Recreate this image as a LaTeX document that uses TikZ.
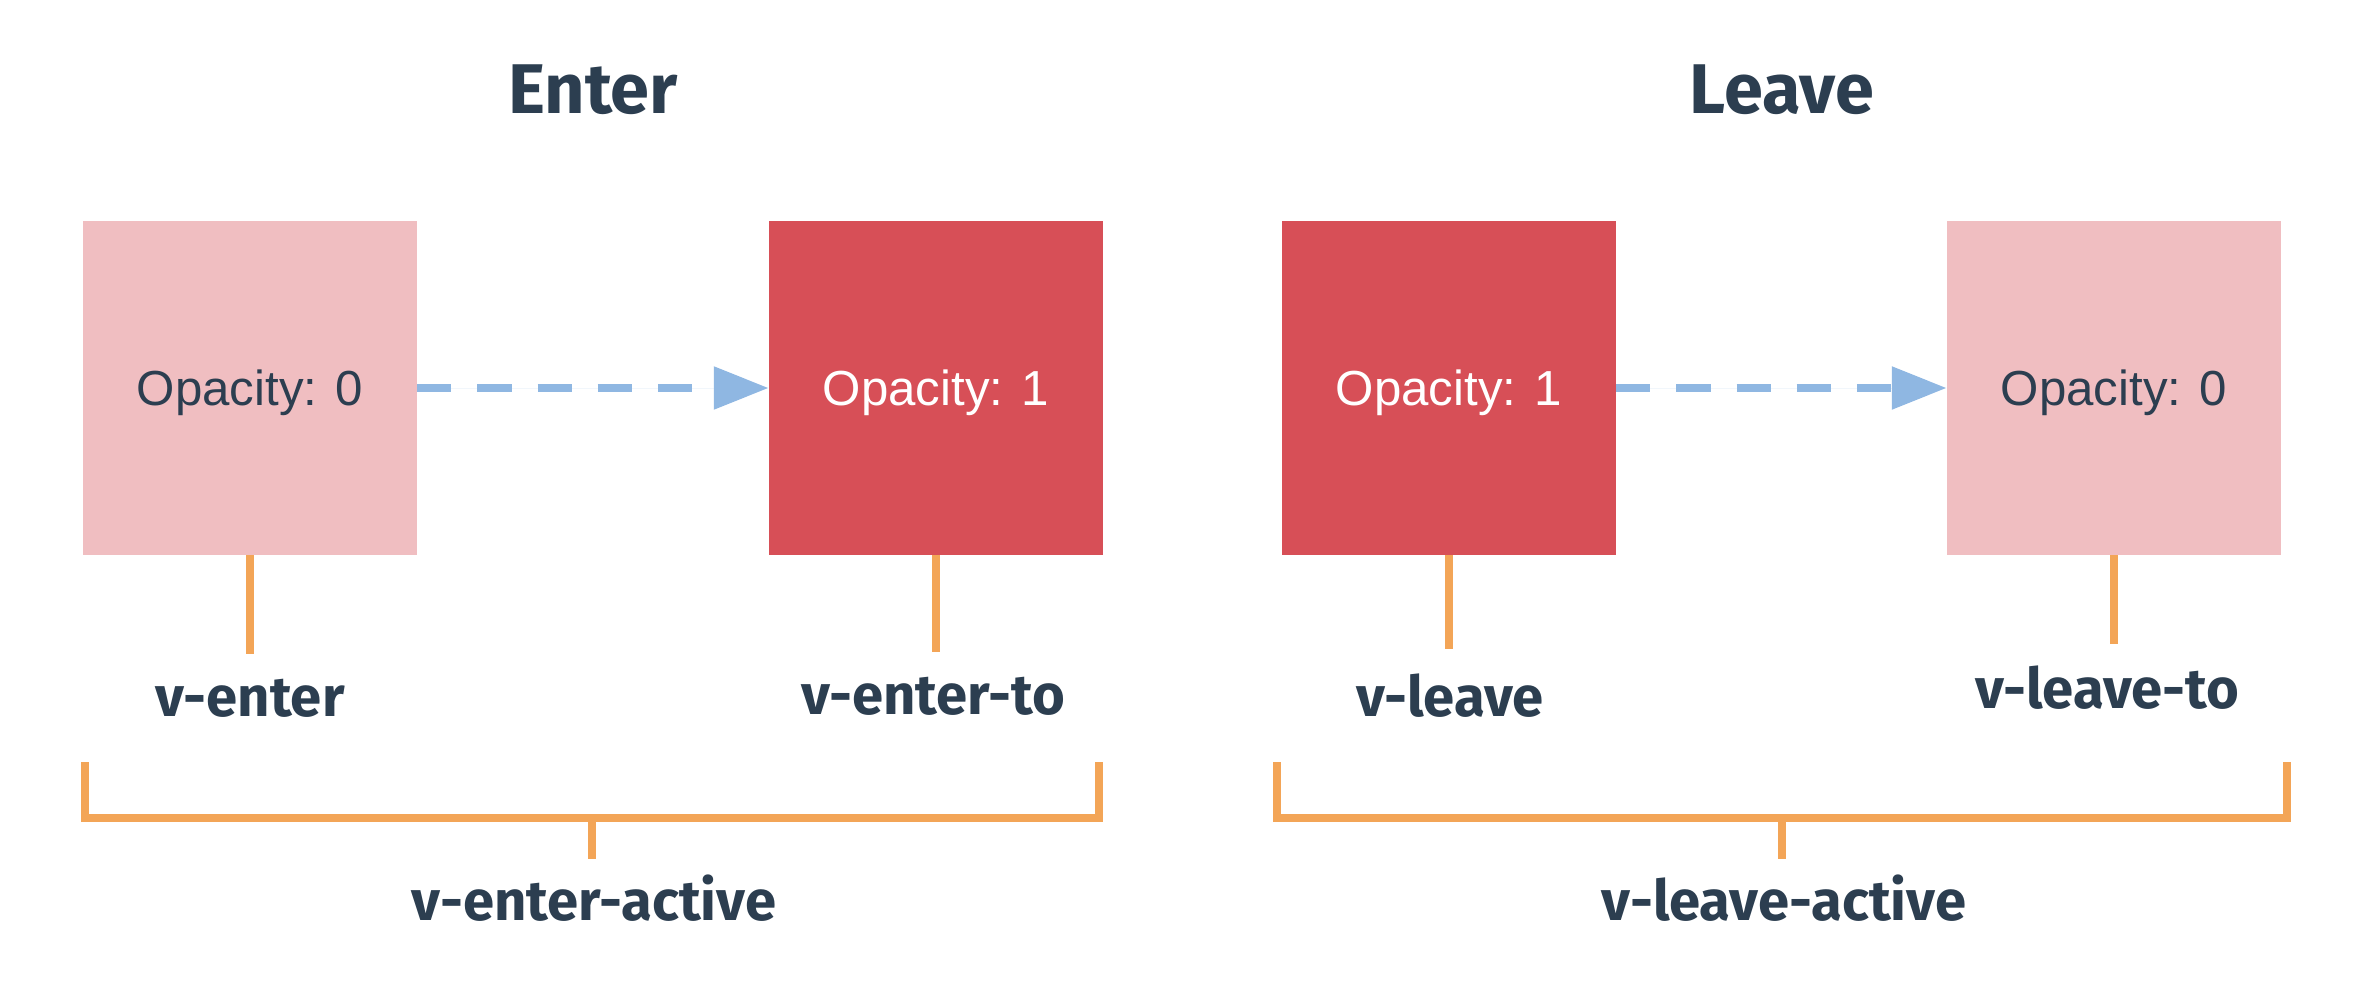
\documentclass[tikz,border=0pt]{standalone}
\usepackage{fontspec}
\setmainfont{Liberation Sans}
\newfontfamily\labelfont{Fira Sans}
\usepackage{tikz}
\usetikzlibrary{
    arrows.meta,
    positioning
}

\definecolor{boxpale}{HTML}{F0BEC1}
\definecolor{boxred}{HTML}{D74F57}
\definecolor{bracketorange}{HTML}{F3A557}
\definecolor{arrowblue}{HTML}{8FB7E2}
\definecolor{ink}{HTML}{2C3E50}

\begin{document}
\begin{tikzpicture}[x=0.01cm, y=-0.01cm,
    state/.style={
        rectangle,
        draw=none,
        minimum width=3.33cm,
        minimum height=3.33cm,
        inner sep=0pt,
        text depth=0pt,
        font=\fontsize{14}{17}\selectfont
    },
    pale/.style={state, fill=boxpale, text=ink},
    solid red/.style={state, fill=boxred, text=white},
    title/.style={
        anchor=base,
        font=\labelfont\bfseries\fontsize{20}{24}\selectfont,
        text=ink
    },
    cls/.style={
        anchor=base,
        font=\labelfont\bfseries\fontsize{16}{19}\selectfont,
        text=ink
    },
    fade/.style={
        -{Triangle[length=15.6pt, width=11.7pt]},
        draw=arrowblue, fill=arrowblue,
        line width=2.3pt,
        dash pattern=on 9.7pt off 7.4pt
    },
    tick/.style={draw=bracketorange, line width=2.3pt}
]
\useasboundingbox (0,0) rectangle (2360,982);

% ===== ENTER =====
\node[title] (enter) at (593,114) {Enter};
\node[pale] (e0) at (250,388) {Opacity: 0};
\node[solid red] (e1) at (936,388) {Opacity: 1};
\draw[fade] (e0) -- (e1);

\coordinate (e0t) at (250,654);
\coordinate (e1t) at (936,652);
\draw[tick] (e0.south) -- (e0t);
\draw[tick] (e1.south) -- (e1t);
\node[cls] (venter) at (250,716) {v-enter};
\node[cls] (venterto) at (933,714) {v-enter-to};

% bracket
\coordinate (ebl) at (85,762);
\coordinate (ebr) at (1099,762);
\coordinate (ebbar) at (592,818);
\coordinate (ebm) at (592,859);
\draw[tick] (ebl) |- (ebbar) -| (ebr);
\draw[tick] (ebbar) -- (ebm);
\node[cls] (enteractive) at (594,920) {v-enter-active};

% ===== LEAVE =====
\node[title] (leave) at (1782,114) {Leave};
\node[solid red] (l1) at (1449,388) {Opacity: 1};
\node[pale] (l0) at (2114,388) {Opacity: 0};
\draw[fade] (l1) -- (l0);

\coordinate (l1t) at (1449,649);
\coordinate (l0t) at (2114,644);
\draw[tick] (l1.south) -- (l1t);
\draw[tick] (l0.south) -- (l0t);
\node[cls] (vleave) at (1450,716) {v-leave};
\node[cls] (vleaveto) at (2107,708) {v-leave-to};

% bracket
\coordinate (lbl) at (1277,762);
\coordinate (lbr) at (2287,762);
\coordinate (lbbar) at (1782,818);
\coordinate (lbm) at (1782,859);
\draw[tick] (lbl) |- (lbbar) -| (lbr);
\draw[tick] (lbbar) -- (lbm);
\node[cls] (leaveactive) at (1784,920) {v-leave-active};

\end{tikzpicture}
\end{document}
